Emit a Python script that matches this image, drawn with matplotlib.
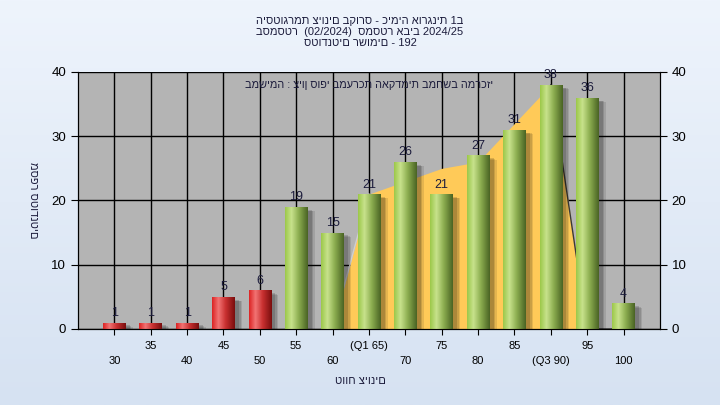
import numpy as np
import matplotlib
matplotlib.use("Agg")
import matplotlib.pyplot as plt
from matplotlib.colors import LinearSegmentedColormap
from matplotlib.patches import Rectangle

# data
grades = ["30", "35", "40", "45", "50", "55", "60", "(Q1 65)", "70", "75",
          "80", "85", "(Q3 90)", "95", "100"]
counts = [1, 1, 1, 5, 6, 19, 15, 21, 26, 21, 27, 31, 38, 36, 4]
iqr_band = [0, 0, 0, 0, 0, 0, 0, 21, 23, 25, 26, 32, 38, 0, 0]
pass_mark = 55

title = ("היסטוגרמת ציונים בקורס - כימיה אורגנית 1ב\n"
         "בסמסטר  (02/2024)  סמסטר אביב 2024/25\n"
         "סטודנטים רשומים - 192")
note = "במשימה : ציון סופי במערכת האקדמית במחשב המרכזי"
xlab = "טווח ציונים"
ylab = "מספר סטודנטים"

plt.rcParams["font.family"] = ["Liberation Sans", "DejaVu Sans"]

fig = plt.figure(figsize=(7.2, 4.05), dpi=100)

# light blue background gradient
bg = fig.add_axes([0, 0, 1, 1], zorder=-10)
grad = np.linspace(0, 1, 256).reshape(-1, 1)
bg.imshow(grad, aspect="auto", extent=(0, 1, 0, 1),
          cmap=LinearSegmentedColormap.from_list("bg", ["#eef4fc", "#d6e2f2"]))
bg.axis("off")

ax = fig.add_axes([0.1083, 0.1877, 0.8083, 0.6346])
ax.set_facecolor("#b4b4b4")
x = np.arange(len(counts))
w = 0.62

ax.set_axisbelow(True)
ax.grid(True, color="black", lw=1, zorder=0)

# interquartile band
ax.fill_between(x, iqr_band, color="#ffca58", lw=0, zorder=1)
ax.plot(x[6:8], [0, iqr_band[7]], color="#cfcfcf", lw=1, zorder=1)
ax.plot(x[12:], [iqr_band[12], 0, 0], color="#3a3a3a", lw=1, zorder=1)

green = LinearSegmentedColormap.from_list(
    "g", [(0, "#9cc84a"), (0.28, "#c8e28c"), (0.6, "#8cae50"), (1, "#4a6424")])
red = LinearSegmentedColormap.from_list(
    "r", [(0, "#dc2424"), (0.28, "#f27474"), (0.6, "#c83030"), (1, "#7a0e0e")])
hgrad = np.linspace(0, 1, 64).reshape(1, -1)

for xi, c, g in zip(x, counts, grades):
    val = int(g.strip("()").split()[-1])
    cmap = red if val < pass_mark else green
    # soft drop shadow
    for k, a in enumerate([0.10, 0.12, 0.15]):
        d = 0.05 + 0.04 * (2 - k)
        ax.add_patch(Rectangle((xi - w / 2 + 0.12, -0.6), w + d - 0.05, c + 0.3 - d * 3,
                               color="black", alpha=a, lw=0, zorder=2))
    rect = Rectangle((xi - w / 2, 0), w, c, fill=False, lw=0, zorder=3)
    ax.add_patch(rect)
    im = ax.imshow(hgrad, aspect="auto", cmap=cmap,
                   extent=(xi - w / 2, xi + w / 2, 0, c), zorder=3)
    im.set_clip_path(rect)
    ax.annotate(str(c), (xi, c), xytext=(0, 2.5), textcoords="offset points",
                ha="center", va="bottom", fontsize=9, color="#1c1c3c", zorder=5)

ax.set_xlim(-1, 15)
ax.set_ylim(0, 40)
ax.set_yticks([0, 10, 20, 30, 40])
ax.set_xticks(x)
ax.set_xticklabels([g if i % 2 else "\n" + g for i, g in enumerate(grades)],
                   fontsize=8, linespacing=1.6)
ax.tick_params(axis="x", length=4, pad=5)
ax.tick_params(axis="y", length=5, labelsize=9.5)
ax.spines["top"].set_visible(False)
for s in ["left", "right", "bottom"]:
    ax.spines[s].set_color("black")

ax2 = ax.twinx()
ax2.set_ylim(0, 40)
ax2.set_yticks([0, 10, 20, 30, 40])
ax2.tick_params(axis="y", length=5, labelsize=9.5)
ax2.spines["top"].set_visible(False)

ax.text(0.5, 0.95, note, transform=ax.transAxes, ha="center", va="center",
        fontsize=7.8, color="#1c1c3c", zorder=6)

fig.text(0.5, 0.92, title, ha="center", va="center", fontsize=8,
         color="#1c1c3c", linespacing=1.12)
fig.text(0.5, 0.059, xlab, ha="center", va="center", fontsize=8, color="#1c1c3c")
fig.text(0.046, 0.506, ylab, ha="center", va="center", rotation=270,
         fontsize=8, color="#1c1c3c")

fig.savefig("out.png", dpi=100)
